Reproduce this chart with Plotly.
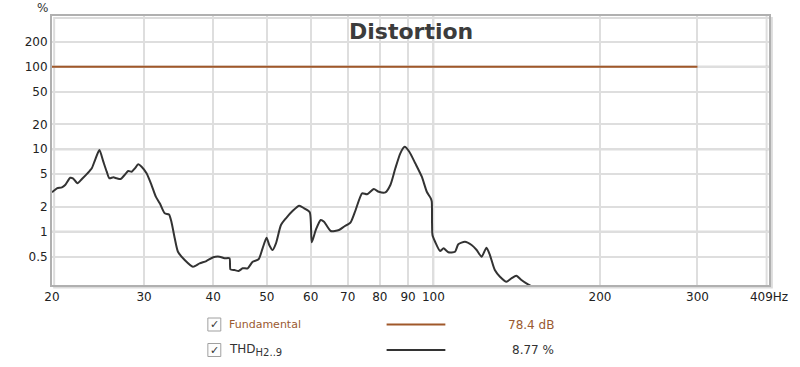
import plotly.graph_objects as go
import math

# ---- data ----
thd_freq_hz = [20.45, 20.87, 21.31, 21.60, 22.06, 22.31, 22.74, 23.16, 23.70, 24.13,
               24.46, 24.91, 25.32, 25.68, 25.96, 26.40, 26.77, 27.21, 27.59, 28.09,
               28.49, 28.88, 29.28, 29.69, 30.31, 30.94, 31.50, 32.02, 32.69, 33.28,
               33.61, 34.08, 34.54, 35.52, 36.76, 37.80, 38.86, 40.0, 41.06, 41.92,
               42.80, 42.97, 43.69, 44.47, 45.21, 46.16, 47.13, 48.31, 49.12, 49.94,
               50.50, 51.20, 51.93, 53.02, 54.13, 55.63, 57.19, 58.39, 59.77, 60.27,
               61.28, 62.56, 63.43, 65.21, 67.50, 68.91, 70.85, 72.33, 74.32, 75.88,
               78.02, 79.65, 81.88, 83.59, 85.34, 87.13, 88.70, 90.44, 92.72, 95.28,
               97.27, 98.90, 99.31, 99.60, 100.7, 102.8, 104.3, 106.4, 109.4, 110.9,
               114.0, 117.2, 119.7, 122.2, 124.7, 126.5, 129.1, 131.9, 135.5, 138.3,
               141.2, 144.2, 148.2, 151.0]
thd_pct = [3.00, 3.36, 3.45, 3.68, 4.51, 4.44, 3.86, 4.35, 5.10, 5.87,
           7.40, 9.78, 7.06, 5.34, 4.44, 4.56, 4.44, 4.35, 4.77, 5.44,
           5.34, 5.87, 6.56, 6.14, 5.10, 3.68, 2.66, 2.21, 1.67, 1.62,
           1.32, 0.832, 0.572, 0.454, 0.376, 0.414, 0.441, 0.490, 0.498, 0.476,
           0.476, 0.350, 0.343, 0.334, 0.360, 0.360, 0.433, 0.463, 0.629, 0.846,
           0.690, 0.600, 0.723, 1.206, 1.454, 1.78, 2.07, 1.92, 1.72, 0.744,
           1.048, 1.386, 1.32, 1.02, 1.048, 1.15, 1.30, 1.83, 2.92, 2.84,
           3.29, 3.05, 3.00, 3.68, 5.87, 8.92, 10.7, 9.33, 6.75, 4.64,
           3.05, 2.54, 2.31, 0.912, 0.756, 0.584, 0.629, 0.563, 0.572, 0.704,
           0.756, 0.690, 0.600, 0.498, 0.640, 0.522, 0.343, 0.285, 0.248, 0.272,
           0.293, 0.260, 0.230, 0.215]
fund_freq_hz = [20, 300]
fund_pct = [100, 100]

x_range_hz = [20.45, 404]
y_range_pct = [0.226, 412]
x_tick_vals = [20.45, 30, 40, 50, 60, 70, 80, 90, 100, 200, 300, 404]
x_tick_text = ["20", "30", "40", "50", "60", "70", "80", "90", "100", "200", "300", "409Hz"]
y_tick_vals = [0.5, 1, 2, 5, 10, 20, 50, 100, 200]
y_tick_text = ["0.5", "1", "2", "5", "10", "20", "50", "100", "200"]
x_decade_lines = [100]
x_extra_lines = [400]
y_decade_lines = [1, 10, 100]

legend_names = ["Fundamental", "THD<sub><span style='font-size:10px'>H2..9</span></sub>"]
legend_values = ["78.4 dB", "8.77 %"]
legend_colors = ["#a0582a", "#333333"]
legend_text_colors = ["#9a5a30", "#333333"]

fig = go.Figure()
fig.add_trace(go.Scatter(x=fund_freq_hz, y=fund_pct, mode="lines",
                         line=dict(color=legend_colors[0], width=2), showlegend=False))
fig.add_trace(go.Scatter(x=thd_freq_hz, y=thd_pct, mode="lines",
                         line=dict(color=legend_colors[1], width=2, shape="spline", smoothing=0.6),
                         showlegend=False))

font_main = "DejaVu Sans"
shapes = []
for xv in x_decade_lines:
    shapes.append(dict(type="line", xref="x", yref="paper", x0=xv, x1=xv, y0=0, y1=1,
                       line=dict(color="#b4b4b4", width=1.5), layer="below"))
for xv in x_extra_lines:
    shapes.append(dict(type="line", xref="x", yref="paper", x0=xv, x1=xv, y0=0, y1=1,
                       line=dict(color="#dedede", width=2), layer="below"))
for yv in y_decade_lines:
    shapes.append(dict(type="line", xref="paper", yref="y", x0=0, x1=1, y0=yv, y1=yv,
                       line=dict(color="#bcbcbc", width=2), layer="below"))
# frame shadow
shapes.append(dict(type="rect", xref="paper", yref="paper", x0=0.003, x1=1.004, y0=-0.009, y1=0.993,
                   line=dict(color="#dcdcdc", width=2), layer="below"))

annotations = [
    dict(text="Distortion", xref="paper", yref="paper", x=0.5, y=0.942, showarrow=False,
         font=dict(family=font_main, size=22, color="#3c3c3c", weight="bold"), yanchor="middle"),
    dict(text="%", xref="paper", yref="paper", x=-0.0135, y=1.03, showarrow=False,
         font=dict(family=font_main, size=12, color="#333333"), xanchor="center", yanchor="middle"),
]

plot_l, plot_w, plot_b, plot_h = 52, 720, 285, 269
def px(x):
    return (x - plot_l) / plot_w
def py(y):
    return (plot_b - y) / plot_h

row_y = [324.5, 350]
name_sizes = [11, 12]
for i in range(2):
    yy = row_y[i]
    shapes.append(dict(type="rect", xref="paper", yref="paper", x0=px(208.5), x1=px(221.5),
                       y0=py(yy + 6.5), y1=py(yy - 6.5), line=dict(color="#a0a0a0", width=1),
                       fillcolor="#fdfdfd"))
    annotations.append(dict(text="✓", xref="paper", yref="paper", x=px(215), y=py(yy),
                            showarrow=False, font=dict(family=font_main, size=11, color="#333"),
                            xanchor="center", yanchor="middle"))
    annotations.append(dict(text=legend_names[i], xref="paper", yref="paper", x=px(227.5), y=py(yy),
                            showarrow=False, font=dict(family=font_main, size=name_sizes[i],
                                                       color=legend_text_colors[i]),
                            xanchor="left", yanchor="middle"))
    shapes.append(dict(type="line", xref="paper", yref="paper", x0=px(388), x1=px(447),
                       y0=py(yy), y1=py(yy), line=dict(color=legend_colors[i], width=2)))
    annotations.append(dict(text=legend_values[i], xref="paper", yref="paper", x=px(558.5), y=py(yy),
                            showarrow=False, font=dict(family=font_main, size=12, color=legend_text_colors[i]),
                            xanchor="right", yanchor="middle"))

fig.update_layout(
    width=800, height=367,
    margin=dict(l=52, r=28, t=16, b=82),
    plot_bgcolor="white", paper_bgcolor="white",
    shapes=shapes, annotations=annotations,
    xaxis=dict(type="log", range=[math.log10(x_range_hz[0]), math.log10(x_range_hz[1])],
               tickvals=x_tick_vals, ticktext=x_tick_text,
               showgrid=True, gridcolor="#dedede", gridwidth=2,
               showline=True, mirror=True, linecolor="#b0b0b0", linewidth=2,
               ticks="", tickfont=dict(family=font_main, size=12, color="#222222"), zeroline=False),
    yaxis=dict(type="log", range=[math.log10(y_range_pct[0]), math.log10(y_range_pct[1])],
               tickvals=y_tick_vals, ticktext=y_tick_text,
               showgrid=True, gridcolor="#dedede", gridwidth=2,
               showline=True, mirror=True, linecolor="#b0b0b0", linewidth=2,
               ticks="", tickfont=dict(family=font_main, size=12, color="#222222"), zeroline=False),
)

fig.write_html("out.html", config={"displayModeBar": False},
               post_script="document.body.style.margin='0px';")
